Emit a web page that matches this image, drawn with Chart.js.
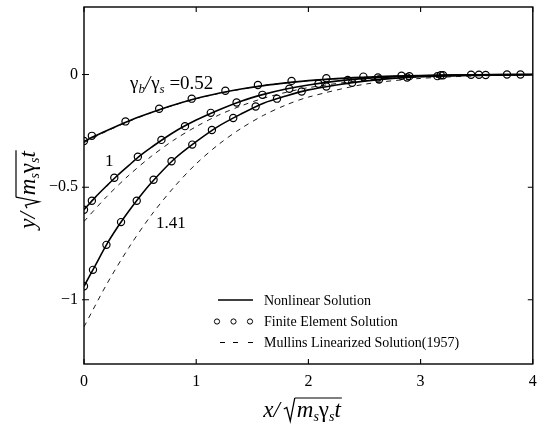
<!DOCTYPE html>
<html><head><meta charset="utf-8">
<script src="https://cdn.jsdelivr.net/npm/chart.js@4/dist/chart.umd.min.js"></script>
<style>html,body{margin:0;padding:0;background:#fff;}</style>
</head><body>
<canvas id="c" width="538" height="433"></canvas>
<script>
// ---- data ----
const xTicks = [0, 1, 2, 3, 4];
const yTicks = [-1, -0.5, 0];

// Nonlinear solution (solid lines)
const xNonlin = [0, 0.1, 0.2, 0.3, 0.4, 0.5, 0.6, 0.8, 1.0, 1.2, 1.4, 1.6, 1.8, 2.0, 2.25, 2.5, 2.75, 3.0, 3.5, 4.0];
const nonlin052 = [-0.297, -0.272, -0.249, -0.227, -0.206, -0.186, -0.168, -0.135, -0.106, -0.083, -0.064, -0.049, -0.037, -0.027, -0.018, -0.012, -0.007, -0.004, -0.001, 0];
const nonlin100 = [-0.60, -0.545, -0.495, -0.447, -0.403, -0.36, -0.323, -0.256, -0.202, -0.157, -0.118, -0.088, -0.064, -0.046, -0.029, -0.017, -0.010, -0.005, -0.001, 0];
const nonlin141 = [-0.94, -0.848, -0.756, -0.677, -0.606, -0.54, -0.48, -0.377, -0.298, -0.229, -0.175, -0.127, -0.095, -0.068, -0.046, -0.029, -0.017, -0.010, -0.003, 0];

// Finite element solution (circles)
const xFe052 = [0, 0.07, 0.37, 0.67, 0.96, 1.26, 1.55, 1.85, 2.16, 2.49, 2.83, 3.18, 3.52, 3.89];
const fe052  = [-0.295, -0.272, -0.208, -0.152, -0.107, -0.072, -0.046, -0.028, -0.016, -0.009, -0.005, -0.003, -0.001, 0];
const xFe100 = [0, 0.07, 0.27, 0.48, 0.69, 0.9, 1.13, 1.36, 1.59, 1.83, 2.09, 2.35, 2.62, 2.9, 3.2, 3.45, 3.77];
const fe100  = [-0.60, -0.56, -0.458, -0.365, -0.29, -0.229, -0.17, -0.124, -0.09, -0.063, -0.041, -0.024, -0.013, -0.007, -0.003, -0.001, 0];
const xFe141 = [0, 0.08, 0.2, 0.33, 0.47, 0.62, 0.78, 0.965, 1.14, 1.33, 1.53, 1.72, 1.94, 2.16, 2.39, 2.63, 2.88, 3.15, 3.58];
const fe141  = [-0.94, -0.867, -0.756, -0.655, -0.56, -0.467, -0.385, -0.311, -0.246, -0.193, -0.142, -0.107, -0.075, -0.053, -0.036, -0.022, -0.013, -0.007, -0.002];

// Mullins linearized solution (dashed lines)
const xLin = [0, 0.2, 0.4, 0.6, 0.8, 1.0, 1.2, 1.4, 1.6, 1.8, 2.0, 2.5, 3.0, 3.5, 4.0];
const lin052 = [-0.302, -0.252, -0.208, -0.169, -0.136, -0.107, -0.084, -0.065, -0.049, -0.037, -0.027, -0.012, -0.005, -0.002, -0.001];
const lin100 = [-0.652, -0.543, -0.447, -0.363, -0.291, -0.231, -0.180, -0.139, -0.105, -0.079, -0.058, -0.025, -0.010, -0.004, -0.001];
const lin141 = [-1.12, -0.933, -0.768, -0.624, -0.501, -0.396, -0.310, -0.239, -0.181, -0.135, -0.100, -0.043, -0.017, -0.006, -0.002];

const legendLabels = ['Nonlinear Solution', 'Finite Element Solution', 'Mullins Linearized Solution(1957)'];
const curveLabels = ['0.52', '1', '1.41'];

// ---- helpers ----
const pts = (xs, ys) => xs.map((x, i) => ({x: x, y: ys[i]}));
const SERIF = "'Liberation Serif', 'DejaVu Serif', serif";

function solid(xs, ys) {
  return {data: pts(xs, ys), showLine: true, borderColor: '#000', borderWidth: 1.6,
          pointRadius: 0, pointHoverRadius: 0, fill: false, tension: 0.3, order: 2};
}
function dashed(xs, ys) {
  return {data: pts(xs, ys), showLine: true, borderColor: '#000', borderWidth: 0.9,
          borderDash: [5, 5], pointRadius: 0, pointHoverRadius: 0, fill: false, tension: 0.3, order: 3};
}
function circles(xs, ys) {
  return {data: pts(xs, ys), showLine: false, borderColor: '#000', backgroundColor: 'rgba(0,0,0,0)',
          pointRadius: 3.6, pointBorderWidth: 1.2, pointStyle: 'circle', order: 1};
}

function pieceWidth(ctx, p) {
  if (p.rad) return 14;
  ctx.font = p.font;
  return ctx.measureText(p.t).width + (p.after || 0);
}
function drawPieces(ctx, pieces, cx, baseY) {
  let total = 0;
  pieces.forEach(p => total += pieceWidth(ctx, p));
  let x = cx - total / 2;
  let radStart = null;
  pieces.forEach(p => {
    const w = pieceWidth(ctx, p);
    if (p.rad) {
      ctx.save();
      ctx.strokeStyle = '#000'; ctx.lineWidth = 1.3;
      ctx.beginPath();
      ctx.moveTo(x + 1, baseY - 8);
      ctx.lineTo(x + 4, baseY - 9.5);
      ctx.lineTo(x + 7.5, baseY + 4);
      ctx.lineTo(x + 12, baseY - 19);
      ctx.stroke();
      ctx.restore();
      radStart = x + 12;
    } else {
      ctx.font = p.font;
      ctx.fillStyle = '#000';
      ctx.textBaseline = 'alphabetic';
      ctx.textAlign = 'left';
      ctx.fillText(p.t, x, baseY + (p.dy || 0));
    }
    x += w;
  });
  if (radStart !== null) {
    ctx.save();
    ctx.strokeStyle = '#000'; ctx.lineWidth = 1.2;
    ctx.beginPath();
    ctx.moveTo(radStart, baseY - 19);
    ctx.lineTo(x + 1, baseY - 19);
    ctx.stroke();
    ctx.restore();
  }
}
function titlePieces(v) {
  const it = 'italic 23px ' + SERIF, sub = 'italic 14px ' + SERIF, up = '23px ' + SERIF;
  return [
    {t: v, font: it}, {t: '/', font: it, after: 3}, {rad: true},
    {t: 'm', font: it}, {t: 's', font: sub, dy: 4}, {t: 'γ', font: up}, {t: 's', font: sub, dy: 4},
    {t: 't', font: it}
  ];
}

const framePlugin = {
  id: 'frame',
  beforeDraw(chart) {
    const ctx = chart.ctx;
    ctx.save(); ctx.fillStyle = '#fff'; ctx.fillRect(0, 0, chart.width, chart.height); ctx.restore();
  },
  afterDraw(chart) {
    const ctx = chart.ctx, a = chart.chartArea;
    const xs = chart.scales.x, ys = chart.scales.y;
    ctx.save();
    ctx.strokeStyle = '#000'; ctx.lineWidth = 1.4;
    ctx.strokeRect(a.left, a.top, a.right - a.left, a.bottom - a.top);
    ctx.lineWidth = 1.1;
    ctx.beginPath();
    xTicks.forEach(v => {
      const px = xs.getPixelForValue(v);
      ctx.moveTo(px, a.bottom); ctx.lineTo(px, a.bottom - 5);
      ctx.moveTo(px, a.top); ctx.lineTo(px, a.top + 5);
    });
    yTicks.forEach(v => {
      const py = ys.getPixelForValue(v);
      ctx.moveTo(a.left - 2, py); ctx.lineTo(a.left + 5, py);
      ctx.moveTo(a.right, py); ctx.lineTo(a.right - 5, py);
    });
    ctx.stroke();

    // axis titles
    drawPieces(ctx, titlePieces('x'), 302, 417);
    ctx.save();
    ctx.translate(35, 190);
    ctx.rotate(-Math.PI / 2);
    drawPieces(ctx, titlePieces('y'), 0, 0);
    ctx.restore();

    // curve labels
    const f16 = '19px ' + SERIF, s11 = 'italic 13px ' + SERIF;
    let x = 130; const by = 89;
    const parts = [{t: 'γ', font: f16}, {t: 'b', font: s11, dy: 4}, {t: '/', font: 'italic 19px ' + SERIF},
                   {t: 'γ', font: f16}, {t: 's', font: s11, dy: 4}, {t: ' =' + curveLabels[0], font: f16}];
    parts.forEach(p => {
      ctx.font = p.font; ctx.fillStyle = '#000'; ctx.textAlign = 'left'; ctx.textBaseline = 'alphabetic';
      ctx.fillText(p.t, x, by + (p.dy || 0));
      x += ctx.measureText(p.t).width + (p.t === '/' ? 1 : 0);
    });
    ctx.font = '17px ' + SERIF;
    ctx.fillText(curveLabels[1], 105, 166);
    ctx.fillText(curveLabels[2], 156, 228);

    // legend
    const lx = 264;
    const rows = [300, 321.5, 342.5];
    ctx.font = '14px ' + SERIF; ctx.textBaseline = 'middle';
    legendLabels.forEach((t, i) => ctx.fillText(t, lx, rows[i] + 1));
    ctx.lineWidth = 1.4;
    ctx.beginPath(); ctx.moveTo(218, rows[0]); ctx.lineTo(253, rows[0]); ctx.stroke();
    ctx.lineWidth = 1;
    [217, 233.5, 250].forEach(cx => { ctx.beginPath(); ctx.arc(cx, rows[1], 2.6, 0, Math.PI * 2); ctx.stroke(); });
    ctx.beginPath();
    [[220, 225], [233, 238], [248, 253]].forEach(d => { ctx.moveTo(d[0], rows[2]); ctx.lineTo(d[1], rows[2]); });
    ctx.stroke();
    ctx.restore();
  }
};

new Chart(document.getElementById('c'), {
  type: 'scatter',
  data: {
    datasets: [
      solid(xNonlin, nonlin052), solid(xNonlin, nonlin100), solid(xNonlin, nonlin141),
      circles(xFe052, fe052), circles(xFe100, fe100), circles(xFe141, fe141),
      dashed(xLin, lin052), dashed(xLin, lin100), dashed(xLin, lin141)
    ]
  },
  options: {
    responsive: false,
    devicePixelRatio: 1,
    animation: false,
    layout: {padding: {left: 0, right: 4, top: 7, bottom: 0}},
    plugins: {legend: {display: false}, tooltip: {enabled: false}},
    scales: {
      x: {
        type: 'linear', min: 0, max: 4,
        afterBuildTicks: s => { s.ticks = xTicks.map(v => ({value: v})); },
        afterFit: s => { s.height = 69; s.paddingLeft = 0; s.paddingRight = 0; },
        grid: {display: false, drawTicks: false},
        border: {display: false},
        ticks: {color: '#000', padding: 8, font: {family: SERIF, size: 16}, maxRotation: 0,
                callback: v => String(v)}
      },
      y: {
        type: 'linear', min: -1.285, max: 0.3,
        afterBuildTicks: s => { s.ticks = yTicks.map(v => ({value: v})); },
        afterFit: s => { s.width = 84; s.paddingTop = 0; s.paddingBottom = 0; },
        grid: {display: false, drawTicks: false},
        border: {display: false},
        ticks: {color: '#000', padding: 6, font: {family: SERIF, size: 16},
                callback: v => (v < 0 ? '\u2212' + String(Math.abs(v)) : String(v))}
      }
    }
  },
  plugins: [framePlugin]
});
</script>
</body></html>
